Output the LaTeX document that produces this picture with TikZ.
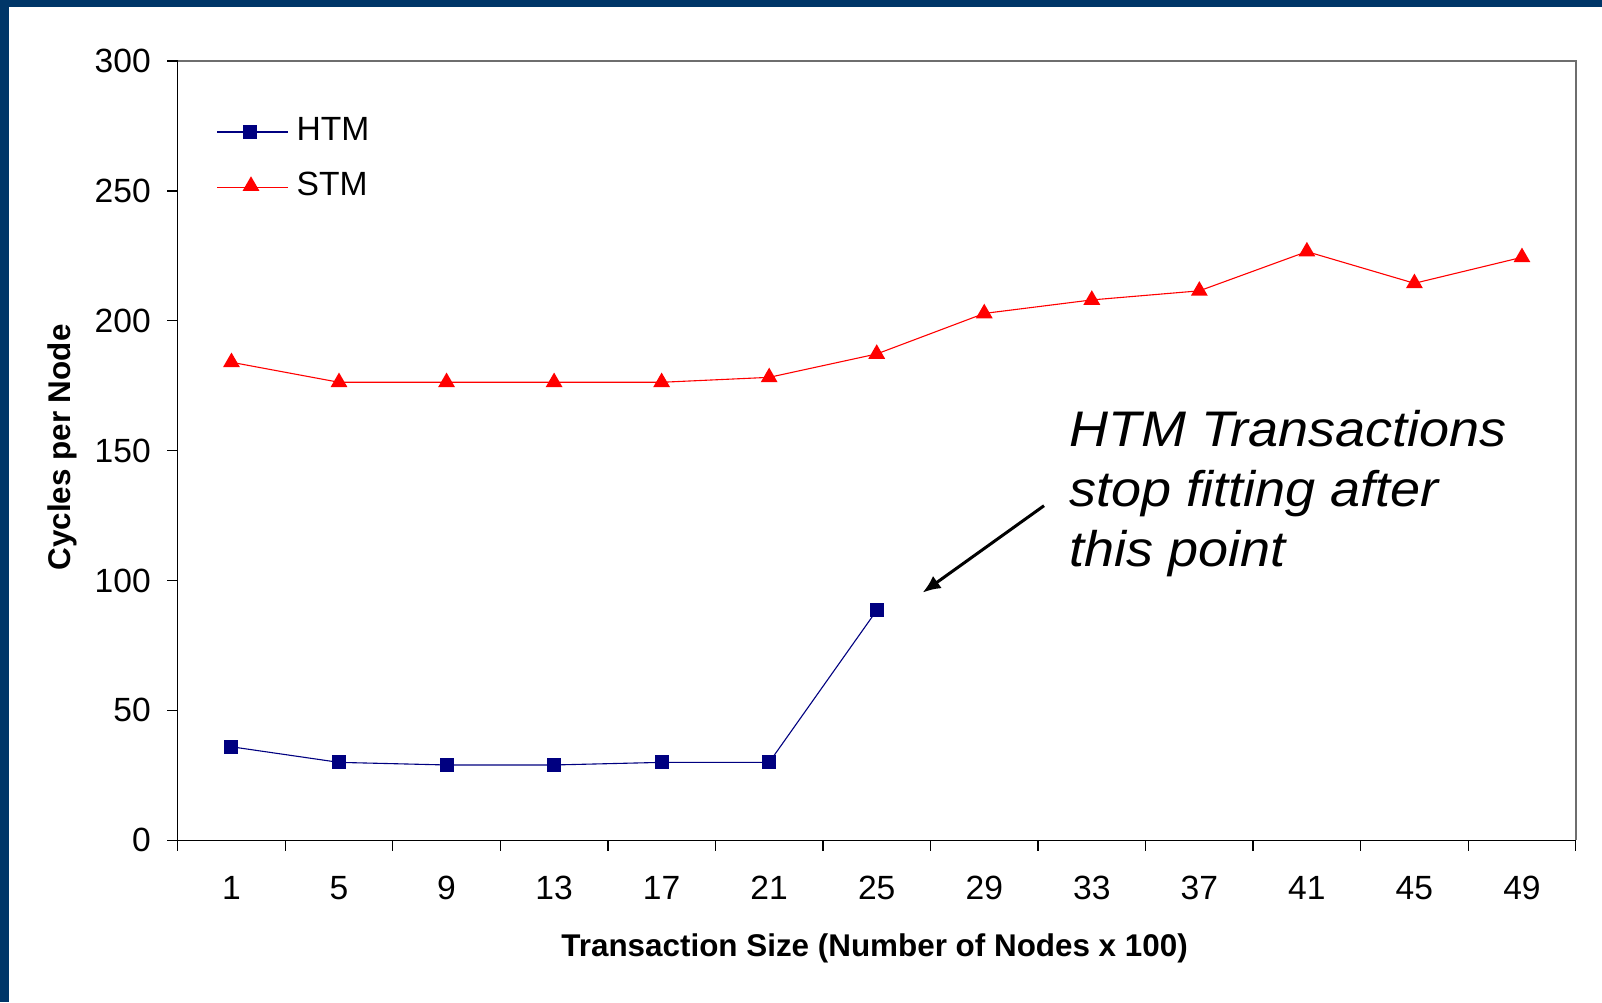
\documentclass[tikz,border=0pt]{standalone}
\usepackage{fontspec}
\setmainfont{Liberation Sans}
\usetikzlibrary{shapes.geometric,arrows.meta}
\definecolor{framecol}{RGB}{0,54,104}
\definecolor{htmcol}{RGB}{0,0,128}
\definecolor{stmcol}{RGB}{255,0,0}
\definecolor{bordergray}{RGB}{110,110,110}
\tikzset{
  axisline/.style={black,line width=1.4pt},
  borderline/.style={bordergray,line width=1.6pt},
  htmline/.style={htmcol,line width=1.1pt},
  stmline/.style={stmcol,line width=1.1pt},
  htmmark/.style={rectangle,fill=htmcol,draw=none,minimum size=14pt,inner sep=0pt},
  stmmark/.style={regular polygon,regular polygon sides=3,fill=stmcol,draw=none,minimum size=19.5pt,inner sep=0pt},
  ticklabel/.style={inner sep=0pt,font=\fontsize{33.6}{40}\selectfont},
  axistitle/.style={inner sep=0pt,font=\fontsize{31.4}{36}\selectfont\bfseries},
  note/.style={inner sep=0pt,align=left,xscale=1.08,font=\fontsize{50}{60}\selectfont\itshape},
  pointer/.style={black,line width=3pt,-{Latex[length=18pt,width=15pt]}}
}
\begin{document}
\begin{tikzpicture}[x=1pt,y=-1pt]
\useasboundingbox (0,0) rectangle (1602,1002);
\fill[white] (0,0) rectangle (1602,1002);
\fill[framecol] (0,0) rectangle (1602,6.5);
\fill[framecol] (0,0) rectangle (9,1002);
% frame of plot area
\draw[borderline] (167,61) -- (1575.7,61) -- (1575.7,840.3);
\draw[axisline] (177.7,61) -- (177.7,850.7);
\draw[axisline] (167,840.3) -- (1575.7,840.3);
\draw[black,line width=1.2pt] (1575.7,840.3) -- (1575.7,850.7);
% y ticks and labels
\foreach \v in {0,50,...,300} {
  \draw[axisline] (167,{840.3-2.598*\v}) -- (177.7,{840.3-2.598*\v});
  \node[ticklabel,anchor=east] (yl\v) at (151,{840.3-2.598*\v}) {\v};
}
% x ticks
\foreach \k in {0,...,12} {
  \draw[axisline] ({177.7+107.54*\k},840.3) -- ({177.7+107.54*\k},850.7);
}
% x labels
\foreach \lab [count=\i] in {1,5,9,13,17,21,25,29,33,37,41,45,49} {
  \node[ticklabel] (xl\i) at ({177.7+107.54*(\i-0.5)},888) {\lab};
}
% data coordinates
\foreach \v [count=\i] in {36,30,29,29,30,30,88.5} {
  \coordinate (h\i) at ({177.7+107.54*(\i-0.5)},{840.3-2.598*\v});
}
\foreach \v [count=\i] in {184,176.3,176.3,176.3,176.3,178.2,187.2,202.8,208,211.5,226.6,214.4,224.4} {
  \coordinate (s\i) at ({177.7+107.54*(\i-0.5)},{840.3-2.598*\v});
}
\draw[htmline] (h1) -- (h2) -- (h3) -- (h4) -- (h5) -- (h6) -- (h7);
\draw[stmline] (s1) -- (s2) -- (s3) -- (s4) -- (s5) -- (s6) -- (s7) -- (s8) -- (s9) -- (s10) -- (s11) -- (s12) -- (s13);
\foreach \i in {1,...,7} { \node[htmmark] (hm\i) at (h\i) {}; }
\foreach \i in {1,...,13} { \node[stmmark] (sm\i) at (s\i) {}; }
% legend
\coordinate (lh1) at (217,132);
\coordinate (lh2) at (288,132);
\coordinate (ls1) at (217,187.3);
\coordinate (ls2) at (288,187.3);
\draw[htmline] (lh1) -- (lh2);
\draw[stmline] (ls1) -- (ls2);
\node[htmmark] (lhm) at (250,132) {};
\node[stmmark] (lsm) at (251,186) {};
\node[ticklabel,anchor=base west] (lht) at (296.5,140) {HTM};
\node[ticklabel,anchor=base west] (lst) at (296.5,195) {STM};
% axis titles
\node[axistitle,anchor=base] (xt) at (874.6,956) {Transaction Size (Number of Nodes x 100)};
\node[axistitle,anchor=base,rotate=90] (yt) at (70.5,447.5) {Cycles per Node};
% annotation
\node[note,anchor=north west] (note) at (1069,410.5) {HTM Transactions\\stop fitting after\\this point};
\coordinate (arrs) at (1044,505.7);
\coordinate (arrt) at (922.6,592.6);
\draw[pointer] (arrs) -- (arrt);
\end{tikzpicture}
\end{document}
